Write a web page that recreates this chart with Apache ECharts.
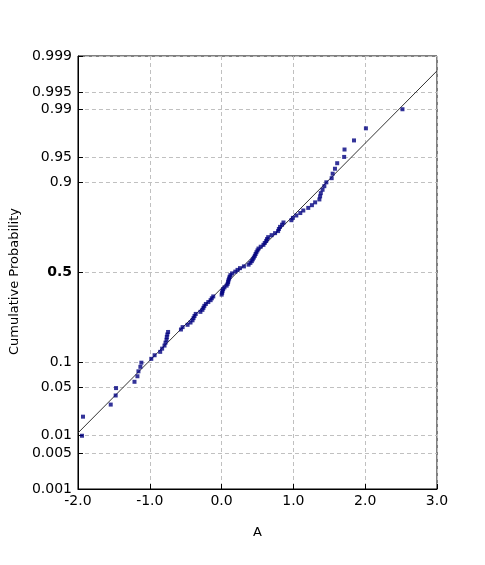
<!DOCTYPE html>
<html>
<head>
<meta charset="utf-8">
<script src="https://cdn.jsdelivr.net/npm/echarts@6/dist/echarts.min.js"></script>
<style>
  html, body { margin: 0; padding: 0; background: #fff; }
  #chart { width: 485px; height: 565px; }
</style>
</head>
<body>
<div id="chart"></div>
<script>
// sample values (A), sorted
var sampleA = [
  -1.944, -1.930, -1.544, -1.475, -1.470, -1.213, -1.172, -1.158, -1.131, -1.117,
  -0.979, -0.933, -0.855, -0.828, -0.795, -0.781, -0.767, -0.763, -0.756, -0.745,
  -0.566, -0.543, -0.474, -0.433, -0.405, -0.391, -0.377, -0.360, -0.295, -0.267,
  -0.253, -0.240, -0.219, -0.185, -0.153, -0.136, -0.116, 0.001, 0.008, 0.012,
  0.022, 0.040, 0.070, 0.084, 0.091, 0.095, 0.105, 0.112, 0.123, 0.146,
  0.191, 0.222, 0.256, 0.311, 0.376, 0.401, 0.421, 0.435, 0.449, 0.463,
  0.474, 0.486, 0.500, 0.514, 0.545, 0.583, 0.601, 0.621, 0.632, 0.649,
  0.697, 0.745, 0.787, 0.798, 0.814, 0.842, 0.862, 0.972, 0.993, 1.041,
  1.096, 1.138, 1.207, 1.258, 1.303, 1.362, 1.372, 1.382, 1.406, 1.431,
  1.459, 1.533, 1.547, 1.579, 1.610, 1.707, 1.712, 1.844, 2.010, 2.519
];
// cumulative probability of each sample point
var sampleP = [
  0.0099, 0.0198, 0.0297, 0.0396, 0.0495, 0.0594, 0.0693, 0.0792, 0.0891, 0.0990,
  0.1089, 0.1188, 0.1287, 0.1386, 0.1485, 0.1584, 0.1683, 0.1782, 0.1881, 0.1980,
  0.2079, 0.2178, 0.2277, 0.2376, 0.2475, 0.2574, 0.2673, 0.2772, 0.2871, 0.2970,
  0.3069, 0.3168, 0.3267, 0.3366, 0.3465, 0.3564, 0.3663, 0.3762, 0.3861, 0.3960,
  0.4059, 0.4158, 0.4257, 0.4356, 0.4455, 0.4554, 0.4653, 0.4752, 0.4851, 0.4950,
  0.5050, 0.5149, 0.5248, 0.5347, 0.5446, 0.5545, 0.5644, 0.5743, 0.5842, 0.5941,
  0.6040, 0.6139, 0.6238, 0.6337, 0.6436, 0.6535, 0.6634, 0.6733, 0.6832, 0.6931,
  0.7030, 0.7129, 0.7228, 0.7327, 0.7426, 0.7525, 0.7624, 0.7723, 0.7822, 0.7921,
  0.8020, 0.8119, 0.8218, 0.8317, 0.8416, 0.8515, 0.8614, 0.8713, 0.8812, 0.8911,
  0.9010, 0.9109, 0.9208, 0.9307, 0.9406, 0.9505, 0.9604, 0.9703, 0.9802, 0.9901
];
// fitted normal line, end points
var fitA = [-2.0, 3.0];
var fitP = [0.011, 0.998];
// probability tick labels
var probTicks = ['0.001', '0.005', '0.01', '0.05', '0.1', '0.5', '0.9', '0.95', '0.99', '0.995', '0.999'];
var xTicks = [-2, -1, 0, 1, 2, 3];

// inverse normal cdf (probability axis scale)
function probit(p) {
  var a = [-3.969683028665376e+01, 2.209460984245205e+02, -2.759285104469687e+02, 1.383577518672690e+02, -3.066479806614716e+01, 2.506628277459239e+00];
  var b = [-5.447609879822406e+01, 1.615858368580409e+02, -1.556989798598866e+02, 6.680131188771972e+01, -1.328068155288572e+01];
  var c = [-7.784894002430293e-03, -3.223964580411365e-01, -2.400758277161838e+00, -2.549732539343734e+00, 4.374664141464968e+00, 2.938163982698783e+00];
  var d = [7.784695709041462e-03, 3.224671290700398e-01, 2.445134137142996e+00, 3.754408661907416e+00];
  var pl = 0.02425, q, r;
  if (p < pl) {
    q = Math.sqrt(-2 * Math.log(p));
    return (((((c[0]*q+c[1])*q+c[2])*q+c[3])*q+c[4])*q+c[5]) / ((((d[0]*q+d[1])*q+d[2])*q+d[3])*q+1);
  }
  if (p > 1 - pl) {
    q = Math.sqrt(-2 * Math.log(1 - p));
    return -(((((c[0]*q+c[1])*q+c[2])*q+c[3])*q+c[4])*q+c[5]) / ((((d[0]*q+d[1])*q+d[2])*q+d[3])*q+1);
  }
  q = p - 0.5; r = q * q;
  return (((((a[0]*r+a[1])*r+a[2])*r+a[3])*r+a[4])*r+a[5])*q / (((((b[0]*r+b[1])*r+b[2])*r+b[3])*r+b[4])*r+1);
}

var tickZ = probTicks.map(function (t) { return probit(parseFloat(t)); });
var zMin = tickZ[0], zMax = tickZ[tickZ.length - 1];

var points = sampleA.map(function (x, i) { return [x, probit(sampleP[i])]; });
var fitLine = fitA.map(function (x, i) { return [x, probit(fitP[i])]; });

var font = '"DejaVu Sans", Verdana, sans-serif';
var gridLine = { show: true, lineStyle: { color: '#c0c0c0', type: [4, 3], width: 1 } };

var chart = echarts.init(document.getElementById('chart'));
chart.setOption({
  backgroundColor: '#fff',
  animation: false,
  grid: {
    left: 74,
    right: 48,
    top: 56,
    bottom: 76,
    show: true,
    borderColor: '#000',
    borderWidth: 1
  },
  xAxis: {
    type: 'value',
    min: xTicks[0],
    max: xTicks[xTicks.length - 1],
    interval: 1,
    name: 'A',
    nameLocation: 'middle',
    nameGap: 37,
    nameTextStyle: { color: '#000', fontFamily: font, fontSize: 13 },
    axisLine: { onZero: false, lineStyle: { color: '#000' } },
    axisTick: { inside: true, length: 5, lineStyle: { color: '#000' } },
    axisLabel: {
      color: '#000', fontFamily: font, fontSize: 14, margin: 5,
      formatter: function (v) { return v.toFixed(1); }
    },
    splitLine: gridLine
  },
  yAxis: {
    type: 'value',
    min: zMin,
    max: zMax,
    name: 'Cumulative Probability',
    nameLocation: 'middle',
    nameGap: 48,
    nameTextStyle: { color: '#000', fontFamily: font, fontSize: 13, padding: [0, 0, 0, -18] },
    axisLine: { onZero: false, lineStyle: { color: '#000' } },
    axisTick: { inside: true, length: 5, customValues: tickZ, lineStyle: { color: '#000' } },
    axisLabel: {
      customValues: tickZ,
      color: '#000', fontFamily: font, fontSize: 14, margin: 6,
      formatter: function (v) {
        var best = 0;
        for (var i = 1; i < tickZ.length; i++) {
          if (Math.abs(tickZ[i] - v) < Math.abs(tickZ[best] - v)) best = i;
        }
        var t = probTicks[best];
        return t === '0.5' ? '{b|' + t + '}' : t;
      },
      rich: { b: { fontWeight: 'bold', fontFamily: font, fontSize: 14, color: '#000' } }
    },
    splitLine: gridLine
  },
  series: [
    {
      type: 'line',
      data: fitLine,
      showSymbol: false,
      lineStyle: { color: '#333', width: 1 },
      z: 2
    },
    {
      type: 'scatter',
      data: points,
      symbol: 'rect',
      symbolSize: 4,
      itemStyle: { color: '#000080' },
      z: 3
    }
  ]
});
</script>
</body>
</html>
